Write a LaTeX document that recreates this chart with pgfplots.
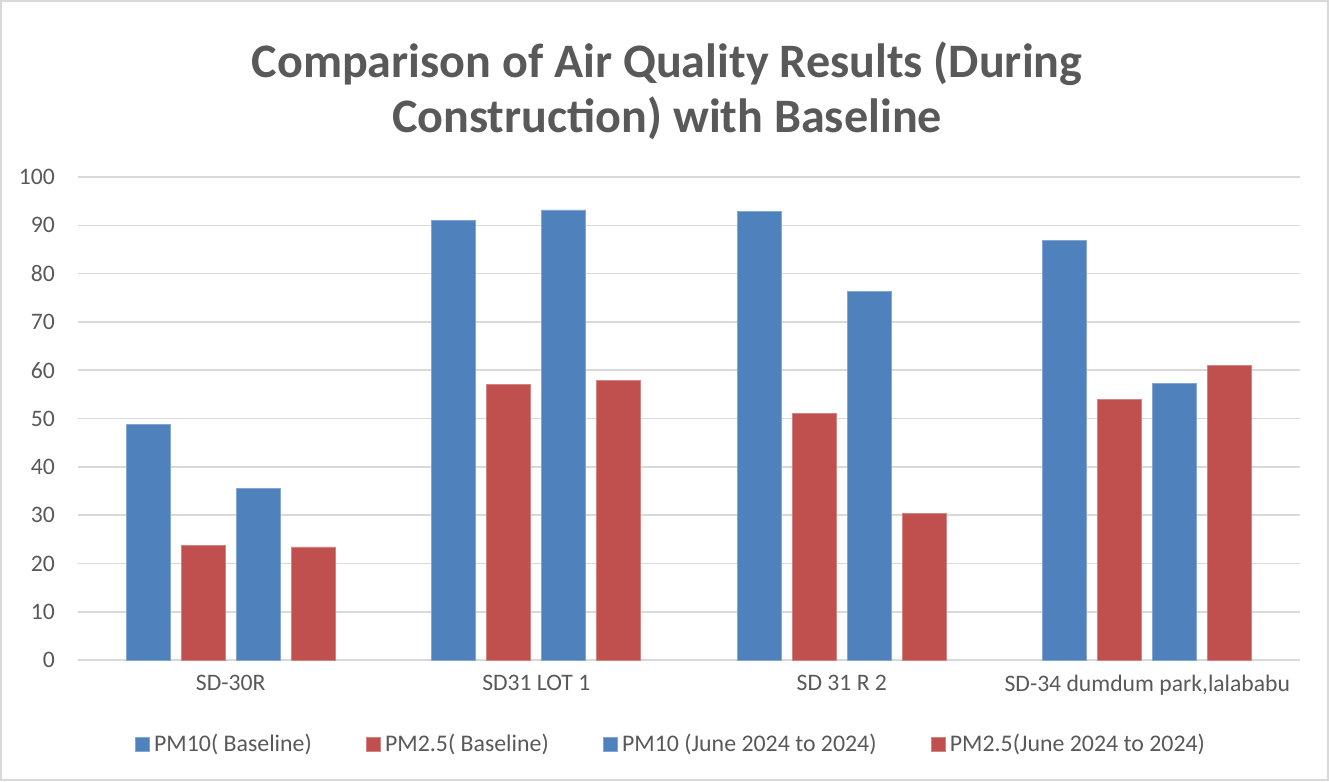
\documentclass[border=0pt]{standalone}
\usepackage{pgfplots}
\pgfplotsset{compat=1.18}
\usepackage{fontspec}
\setmainfont{Carlito}
\definecolor{cblue}{HTML}{4F81BD}
\definecolor{cred}{HTML}{C0504D}
\definecolor{txt}{HTML}{595959}
\definecolor{grd}{HTML}{D9D9D9}
\begin{document}
\begin{tikzpicture}
\begin{axis}[
  scale only axis,
  width=610pt, height=241pt,
  ymin=0, ymax=100, ytick={0,10,...,100},
  xmin=-0.5, xmax=3.5,
  xtick={0,1,2,3},
  xticklabels={SD-30R, SD31 LOT 1, SD 31 R 2, SD-34 dumdum park{,}lalababu},
  ybar,
  bar width=0.144,
  axis x line*=bottom, axis y line*=left,
  x axis line style={draw=none}, y axis line style={draw=none},
  major tick length=0pt,
  ymajorgrids, grid style={grd, line width=0.8pt},
  tick label style={font=\fontsize{11.8}{14}\selectfont, text=txt},
  /pgf/number format/assume math mode=true,
  yticklabel style={anchor=east, xshift=-8pt},
  ytick style={draw=none}, xtick style={draw=none},
  xticklabel style={yshift=-4pt},
  clip=false,
  legend style={at={(0.486,-0.175)}, anchor=center, draw=none, legend columns=-1,
    font=\fontsize{11.9}{14}\selectfont, text=txt,
    /tikz/every even column/.append style={column sep=25pt}},
  legend image code/.code={\fill[#1] (0pt,-3.6pt) rectangle (7.2pt,3.6pt);},
]
\addplot[fill=cblue, draw=cblue!70!white, bar shift=-0.27] coordinates {(0,48.8) (1,91.1) (2,92.9) (3,86.9)};
\addplot[fill=cred, draw=cred!70!white, bar shift=-0.09] coordinates {(0,23.7) (1,57.0) (2,51.0) (3,53.9)};
\addplot[fill=cblue, draw=cblue!70!white, bar shift=0.09] coordinates {(0,35.5) (1,93.2) (2,76.3) (3,57.2)};
\addplot[fill=cred, draw=cred!70!white, bar shift=0.27] coordinates {(0,23.4) (1,57.9) (2,30.3) (3,61.0)};
\legend{PM10( Baseline), PM2.5( Baseline), PM10 (June 2024 to 2024), PM2.5(June 2024 to 2024)}
\node[font=\bfseries\fontsize{24}{27.5}\selectfont, text=txt, align=center] at ([xshift=-11pt,yshift=43pt]rel axis cs:0.5,1) {Comparison of Air Quality Results (During\\Construction) with Baseline};
\draw[grd, line width=0.8pt] ([xshift=-38.5pt,yshift=-60pt]rel axis cs:0,0) rectangle ([xshift=14pt,yshift=88pt]rel axis cs:1,1);
\end{axis}
\end{tikzpicture}
\end{document}
